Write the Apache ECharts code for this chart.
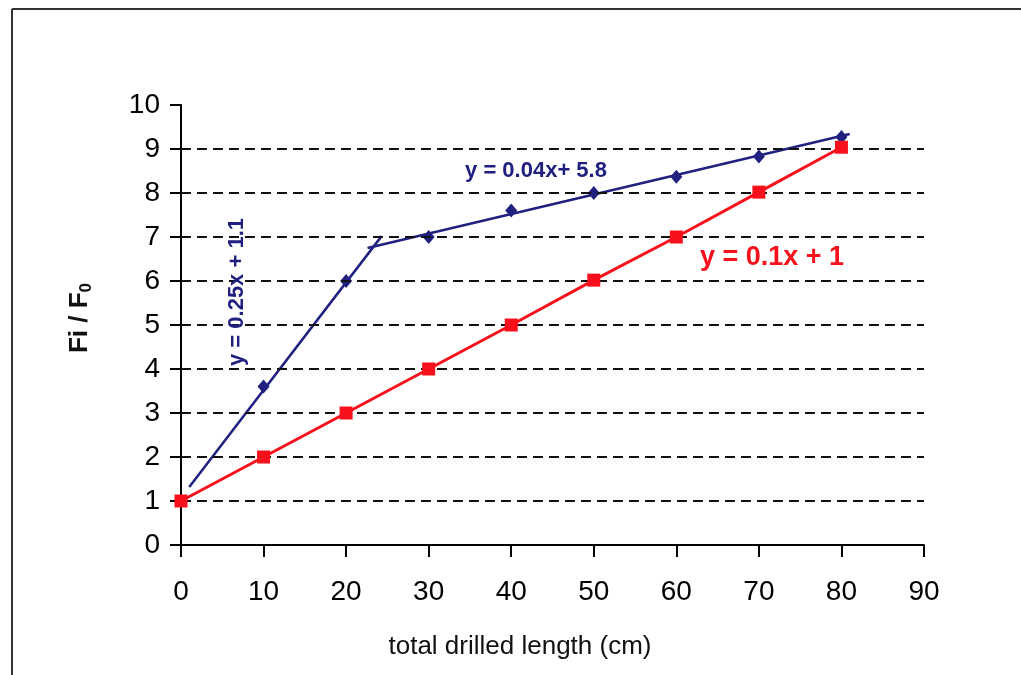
<!DOCTYPE html>
<html>
<head>
<meta charset="utf-8">
<script src="https://cdn.jsdelivr.net/npm/echarts@6/dist/echarts.min.js"></script>
<style>
html,body{margin:0;padding:0;background:#fff;}
#chart{width:1021px;height:675px;}
</style>
</head>
<body>
<div id="chart"></div>
<script>
// ---- data ----
var xValues = [0, 10, 20, 30, 40, 50, 60, 70, 80];
var blueValues = [1, 3.6, 6.0, 7.0, 7.6, 8.0, 8.37, 8.83, 9.27];
var redValues = [1, 2, 3, 4, 5, 6.02, 7, 8.02, 9.04];
var trendSteep = [[1, 1.32], [24.3, 7.02]];
var trendFlat = [[22.6, 6.75], [81, 9.34]];
var gridLineValues = [1, 2, 3, 4, 5, 6, 7, 8, 9];
var xTicks = [0, 10, 20, 30, 40, 50, 60, 70, 80, 90];
var yTicks = [0, 1, 2, 3, 4, 5, 6, 7, 8, 9, 10];
var eqSteep = 'y = 0.25x + 1.1';
var eqFlat = 'y = 0.04x+ 5.8';
var eqRed = 'y = 0.1x + 1';
var xTitle = 'total drilled length (cm)';
var yTitleMain = 'Fi / F';
var yTitleSub = '0';

var NAVY = '#1f2080';
var RED = '#f8101c';
var FONT = '"Liberation Sans", Arial, sans-serif';

function pairs(xs, ys) { return xs.map(function (x, i) { return [x, ys[i]]; }); }

var chart = echarts.init(document.getElementById('chart'), null, {renderer: 'canvas'});
chart.setOption({
  backgroundColor: '#ffffff',
  animation: false,
  grid: {left: 181, top: 105, width: 743, height: 440, containLabel: false},
  xAxis: {
    type: 'value', min: xTicks[0], max: xTicks[xTicks.length - 1], interval: 10,
    axisLine: {show: true, onZero: false, lineStyle: {color: '#000', width: 2}},
    axisTick: {show: true, length: 12, lineStyle: {color: '#000', width: 2}},
    axisLabel: {fontFamily: FONT, fontSize: 28, color: '#000', margin: 33},
    splitLine: {show: false}
  },
  yAxis: {
    type: 'value', min: yTicks[0], max: yTicks[yTicks.length - 1], interval: 1,
    axisLine: {show: true, lineStyle: {color: '#000', width: 2}},
    axisTick: {show: true, length: 11, lineStyle: {color: '#000', width: 2}},
    axisLabel: {fontFamily: FONT, fontSize: 28, color: '#000', margin: 21},
    splitLine: {show: false}
  },
  graphic: [
    {type: 'line', shape: {x1: 12, y1: 9, x2: 1021, y2: 9}, style: {stroke: '#333', lineWidth: 2}, z: 10},
    {type: 'line', shape: {x1: 12, y1: 9, x2: 12, y2: 675}, style: {stroke: '#333', lineWidth: 2}, z: 10},
    {type: 'text', x: 520, y: 647, z: 20, style: {text: xTitle, fill: '#111', font: '26px ' + FONT, textAlign: 'center', textVerticalAlign: 'middle'}},
    {type: 'text', x: 80, y: 318, rotation: Math.PI / 2, z: 20, style: {
      text: '{a|' + yTitleMain + '}{b|' + yTitleSub + '}', textAlign: 'center', textVerticalAlign: 'middle',
      rich: {
        a: {fontFamily: FONT, fontSize: 26, fontWeight: 'bold', fill: '#111', lineHeight: 30},
        b: {fontFamily: FONT, fontSize: 17, fontWeight: 'bold', fill: '#111', lineHeight: 30, verticalAlign: 'bottom', padding: [10, 0, 0, 0]}
      }
    }},
    {type: 'text', x: 772, y: 258, z: 20, style: {text: eqRed, fill: RED, font: 'bold 27px ' + FONT, textAlign: 'center', textVerticalAlign: 'middle'}},
    {type: 'text', x: 536, y: 171, z: 20, style: {text: eqFlat, fill: NAVY, font: 'bold 22px ' + FONT, textAlign: 'center', textVerticalAlign: 'middle'}},
    {type: 'text', x: 237, y: 292, rotation: Math.PI / 2, z: 20, style: {text: eqSteep, fill: NAVY, font: 'bold 22px ' + FONT, textAlign: 'center', textVerticalAlign: 'middle'}}
  ],
  series: [
    {
      type: 'line', data: [], z: 1, silent: true,
      markLine: {
        silent: true, symbol: ['none', 'none'], label: {show: false},
        lineStyle: {color: '#111', width: 2, type: [10, 6], opacity: 1},
        emphasis: {disabled: true},
        data: gridLineValues.map(function (v) { return {yAxis: v}; })
      }
    },
    {
      type: 'line', data: trendSteep, z: 3, showSymbol: false, symbol: 'none',
      lineStyle: {color: NAVY, width: 2.5}
    },
    {
      type: 'line', data: trendFlat, z: 3, showSymbol: false, symbol: 'none',
      lineStyle: {color: NAVY, width: 2.5}
    },
    {
      type: 'scatter', data: pairs(xValues, blueValues), z: 4,
      symbol: 'diamond', symbolSize: [12, 14], itemStyle: {color: NAVY, opacity: 1}
    },
    {
      type: 'line', data: pairs(xValues, redValues), z: 5,
      symbol: 'rect', symbolSize: 13, showAllSymbol: true,
      lineStyle: {color: RED, width: 3}, itemStyle: {color: RED, opacity: 1}
    }
  ]
});
</script>
</body>
</html>
